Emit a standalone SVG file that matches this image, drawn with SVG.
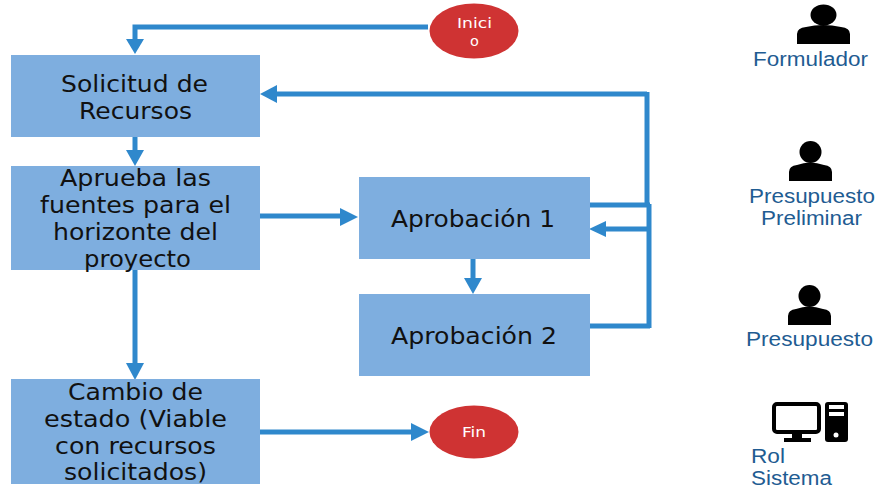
<svg xmlns="http://www.w3.org/2000/svg" width="877" height="488" viewBox="0 0 877 488">
<style>
.box{fill:#7eaedf}
.t{font-family:"DejaVu Sans",Verdana,sans-serif;font-size:23px;fill:#111;text-anchor:middle}
.r{font-family:"Liberation Sans",Arial,sans-serif;font-size:19.500px;fill:#1f5c92;text-anchor:middle}
.c{font-family:"DejaVu Sans",Verdana,sans-serif;font-size:14.500px;fill:#fff;text-anchor:middle}
.l{stroke:#2f88cc;stroke-width:5;fill:none}
.a{fill:#2f88cc}
.e{fill:#cf3333}
</style>
<g id="connectors">
<path class="l" d="M428 27H135V40"/><path class="a" d="M126 39H144L135 54Z"/>
<path class="l" d="M135 137V152"/><path class="a" d="M126 150H144L135 166Z"/>
<path class="l" d="M259 216H342"/><path class="a" d="M340 208V226L358 217Z"/>
<path class="l" d="M135 270V365"/><path class="a" d="M126 363H144L135 380Z"/>
<path class="l" d="M473 259V280"/><path class="a" d="M464 278H482L473 294Z"/>
<path class="l" d="M259 432H413"/><path class="a" d="M411 423V441L429 432Z"/>
<path class="l" d="M647 94H276"/><path class="a" d="M277 85V103L260 94Z"/>
<path class="l" d="M647 92V206"/>
<path class="l" d="M589 205H650"/>
<path class="l" d="M648 229H604"/><path class="a" d="M606 221V237L589 229Z"/>
<path class="l" d="M649 204V328"/>
<path class="l" d="M589 326H650"/>
</g>
<g id="inicio"><ellipse class="e" cx="474" cy="31" rx="44.500" ry="27.500"/><text class="c" x="474.500" y="28" textLength="35" lengthAdjust="spacingAndGlyphs">Inici</text><text class="c" x="474.500" y="46">o</text></g>
<g id="solicitud"><rect class="box" x="11" y="55" width="249" height="82"/><text class="t" x="134.500" y="92" textLength="147" lengthAdjust="spacingAndGlyphs">Solicitud de</text><text class="t" x="135.500" y="119" textLength="113" lengthAdjust="spacingAndGlyphs">Recursos</text></g>
<g id="aprueba"><rect class="box" x="11" y="166" width="249" height="104"/><text class="t" x="135.500" y="186" textLength="151" lengthAdjust="spacingAndGlyphs">Aprueba las</text><text class="t" x="135.500" y="213" textLength="191" lengthAdjust="spacingAndGlyphs">fuentes para el</text><text class="t" x="135.500" y="240" textLength="165" lengthAdjust="spacingAndGlyphs">horizonte del</text><text class="t" x="137.500" y="267" textLength="107" lengthAdjust="spacingAndGlyphs">proyecto</text></g>
<g id="aprobacion1"><rect class="box" x="359" y="177" width="231" height="82"/><text class="t" x="473" y="227" textLength="164" lengthAdjust="spacingAndGlyphs">Aprobación 1</text></g>
<g id="aprobacion2"><rect class="box" x="359" y="294" width="231" height="82"/><text class="t" x="474" y="344" textLength="166" lengthAdjust="spacingAndGlyphs">Aprobación 2</text></g>
<g id="cambio"><rect class="box" x="11" y="379" width="249" height="105"/><text class="t" x="135.500" y="400" textLength="135" lengthAdjust="spacingAndGlyphs">Cambio de</text><text class="t" x="135.500" y="427" textLength="183" lengthAdjust="spacingAndGlyphs">estado (Viable</text><text class="t" x="135.500" y="454" textLength="161" lengthAdjust="spacingAndGlyphs">con recursos</text><text class="t" x="135.500" y="480" textLength="143" lengthAdjust="spacingAndGlyphs">solicitados)</text></g>
<g id="fin"><ellipse class="e" cx="474" cy="432" rx="44.500" ry="26.500"/><text class="c" x="474" y="437" textLength="24" lengthAdjust="spacingAndGlyphs">Fin</text></g>
<g id="formulador"><ellipse cx="823.500" cy="15" rx="13" ry="10.500"/><path d="M797 44V34Q797 28 806 27Q823 23 841 27Q850 28 850 34V44Z"/><text class="r" x="810.500" y="66" textLength="115" lengthAdjust="spacingAndGlyphs">Formulador</text></g>
<g id="preliminar"><circle cx="810.500" cy="152" r="11"/><path d="M789 181V172Q789 166 797 165Q810 160 824 165Q832 166 832 172V181Z"/><text class="r" x="812" y="203" textLength="126" lengthAdjust="spacingAndGlyphs">Presupuesto</text><text class="r" x="811.500" y="225" textLength="101" lengthAdjust="spacingAndGlyphs">Preliminar</text></g>
<g id="presupuesto"><circle cx="809.500" cy="296" r="11"/><path d="M788 325V316Q788 310 796 309Q809 304 823 309Q831 310 831 316V325Z"/><text class="r" x="809.500" y="346" textLength="127" lengthAdjust="spacingAndGlyphs">Presupuesto</text></g>
<g id="sistema"><rect x="774" y="404" width="45" height="28" rx="3" fill="none" stroke="#000" stroke-width="4"/><path d="M792 433H802V438H811V442H784V438H792Z"/><rect x="825" y="402" width="23" height="40" rx="3"/><rect x="829" y="405" width="15" height="4" fill="#fff"/><rect x="829" y="412" width="15" height="4" fill="#fff"/><circle cx="836" cy="435" r="2.500" fill="#fff"/>
<text class="r" x="751" y="463" style="text-anchor:start" textLength="34" lengthAdjust="spacingAndGlyphs">Rol</text><text class="r" x="751" y="485" style="text-anchor:start" textLength="81" lengthAdjust="spacingAndGlyphs">Sistema</text></g>
</svg>
